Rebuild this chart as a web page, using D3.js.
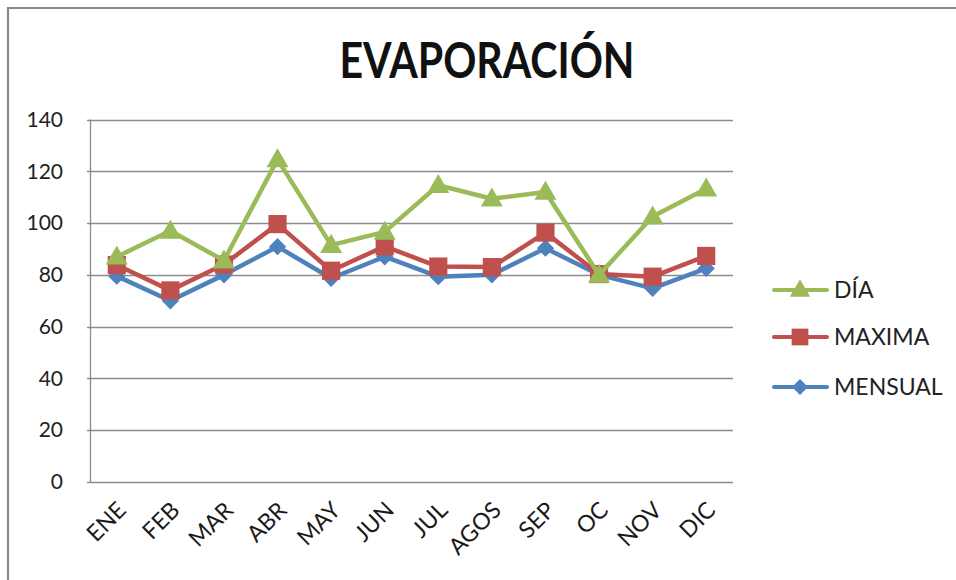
<!DOCTYPE html>
<html>
<head>
<meta charset="utf-8">
<script src="https://cdn.jsdelivr.net/npm/d3@7"></script>
<style>
  body { margin: 0; background: #fff; }
  svg { display: block; font-family: Lato, "Open Sans", sans-serif; }
</style>
</head>
<body>
<svg id="chart"></svg>
<script>
var width = 956;
var height = 580;

var categories = ["ENE", "FEB", "MAR", "ABR", "MAY", "JUN", "JUL", "AGOS", "SEP", "OC", "NOV", "DIC"];
var dia     = [87, 97, 85.5, 124.6, 91.5, 96.6, 114.6, 109.4, 112, 80, 102.5, 113.3];
var maxima  = [83.8, 74, 84, 99.6, 81.6, 91, 83.2, 83, 96.3, 80.3, 79.3, 87.3];
var mensual = [79.5, 70, 80, 90.9, 78.7, 87, 79.3, 80, 90.3, 80, 74.8, 82.5];
var yTicks = [0, 20, 40, 60, 80, 100, 120, 140];
var seriesNames = ["DÍA", "MAXIMA", "MENSUAL"];

var plot = {left: 90, right: 733, top: 119.5, bottom: 482};

var svg = d3.select("#chart").attr("width", width).attr("height", height);

// outer chart border (only top/left visible in the crop)
svg.append("path")
    .attr("d", "M8," + (height + 5) + "V8H" + (width + 5))
    .attr("fill", "none")
    .attr("stroke", "#8a8a8a")
    .attr("stroke-width", 2.2);

var x = d3.scalePoint().domain(categories).range([plot.left, plot.right]).padding(0.5);
var y = d3.scaleLinear().domain([0, 140]).range([plot.bottom, plot.top]);

// gridlines
svg.append("g").selectAll("line")
    .data(yTicks)
    .enter().append("line")
    .attr("x1", plot.left - 3)
    .attr("x2", plot.right)
    .attr("y1", function(d) { return Math.round(y(d)) + 0.5; })
    .attr("y2", function(d) { return Math.round(y(d)) + 0.5; })
    .attr("stroke", "#8c8c8c")
    .attr("stroke-width", 1.3);

// left axis line
svg.append("line")
    .attr("x1", plot.left + 0.5).attr("x2", plot.left + 0.5)
    .attr("y1", plot.top).attr("y2", plot.bottom + 1)
    .attr("stroke", "#8c8c8c")
    .attr("stroke-width", 1.3);

// y labels
var yAxis = svg.append("g")
    .attr("transform", "translate(" + plot.left + ",0)")
    .call(d3.axisLeft(y).tickValues(yTicks).tickSize(0).tickPadding(27));
yAxis.select(".domain").remove();
yAxis.selectAll("text")
    .attr("font-family", "Lato, sans-serif")
    .attr("font-size", 21)
    .attr("fill", "#222");

// x labels, rotated
svg.append("g").selectAll("text")
    .data(categories)
    .enter().append("text")
    .attr("transform", function(d) { return "translate(" + (x(d) + 5) + ",506) rotate(-45)"; })
    .attr("text-anchor", "end")
    .attr("dy", "0.35em")
    .attr("font-size", 23)
    .attr("fill", "#1a1a1a")
    .text(function(d) { return d; });

// title
svg.append("text")
    .attr("x", 487)
    .attr("y", 78)
    .attr("text-anchor", "middle")
    .attr("font-size", 50)
    .attr("font-weight", "bold")
    .attr("fill", "#111")
    .attr("textLength", 295)
    .attr("lengthAdjust", "spacingAndGlyphs")
    .text("EVAPORACIÓN");

var colors = {"DÍA": "#9bbb59", "MAXIMA": "#c0504d", "MENSUAL": "#4f81bd"};
var shapes = {"DÍA": d3.symbolTriangle, "MAXIMA": d3.symbolSquare, "MENSUAL": d3.symbolSquare};
var sizes = {"DÍA": 210, "MAXIMA": 330, "MENSUAL": 150};
var rot = {"DÍA": 0, "MAXIMA": 0, "MENSUAL": 45};
var dataBy = {"DÍA": dia, "MAXIMA": maxima, "MENSUAL": mensual};

var line = d3.line()
    .x(function(d, i) { return x(categories[i]); })
    .y(function(d) { return y(d); });

// draw from back to front: MENSUAL, MAXIMA, DÍA
["MENSUAL", "MAXIMA", "DÍA"].forEach(function(name) {
    var g = svg.append("g");
    g.append("path")
        .datum(dataBy[name])
        .attr("d", line)
        .attr("fill", "none")
        .attr("stroke", colors[name])
        .attr("stroke-width", 4.5)
        .attr("stroke-linejoin", "round");
    g.selectAll("path.pt")
        .data(dataBy[name])
        .enter().append("path")
        .attr("class", "pt")
        .attr("transform", function(d, i) {
            var dy = name == "DÍA" ? 1.5 : 0;
            return "translate(" + x(categories[i]) + "," + (y(d) + dy) + ") rotate(" + rot[name] + ")";
        })
        .attr("d", d3.symbol().type(shapes[name]).size(sizes[name]))
        .attr("fill", colors[name]);
});

// legend
var legendY = {"DÍA": 290, "MAXIMA": 337, "MENSUAL": 387};
seriesNames.forEach(function(name) {
    var g = svg.append("g").attr("transform", "translate(0," + legendY[name] + ")");
    g.append("line")
        .attr("x1", 774).attr("x2", 827)
        .attr("stroke", colors[name])
        .attr("stroke-width", 4)
        .attr("stroke-linecap", "round");
    g.append("path")
        .attr("transform", "translate(800," + (name == "DÍA" ? 1 : 0) + ") rotate(" + rot[name] + ")")
        .attr("d", d3.symbol().type(shapes[name]).size(sizes[name] * 0.85))
        .attr("fill", colors[name]);
    g.append("text")
        .attr("x", 834)
        .attr("dy", "0.36em")
        .attr("font-size", 23)
        .attr("fill", "#222")
        .text(name);
});
</script>
</body>
</html>
